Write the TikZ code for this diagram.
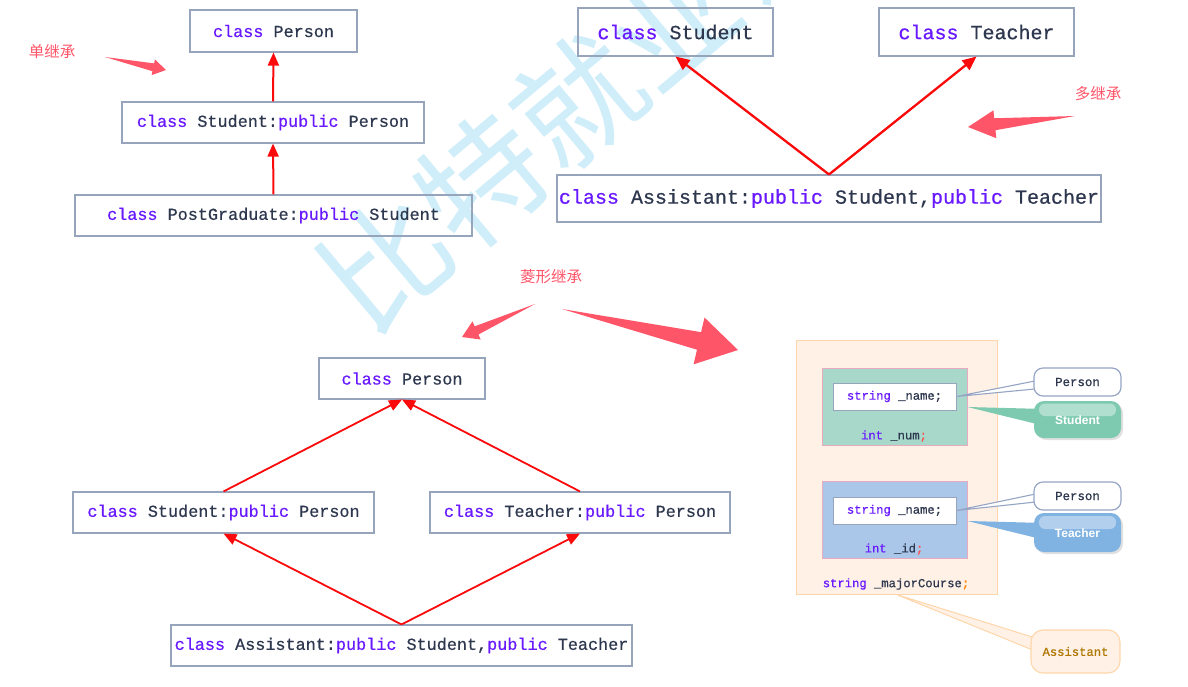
\documentclass[tikz,border=0pt]{standalone}
\usepackage{fontspec}
\setmonofont{Liberation Mono}[FakeBold=0.6]
\newfontfamily\plainmono{Liberation Mono}
\newfontfamily\cjkfont{Noto Sans CJK SC}
\newfontfamily\lsans{Liberation Sans}
\usetikzlibrary{arrows.meta,calc}
\definecolor{boxc}{RGB}{150,165,188}
\definecolor{codec}{RGB}{45,55,78}
\definecolor{kwc}{RGB}{105,25,255}
\definecolor{redc}{RGB}{250,10,10}
\definecolor{annotc}{RGB}{255,85,105}
\definecolor{wmc}{RGB}{208,238,250}
\definecolor{peachfill}{RGB}{255,241,230}
\definecolor{peachdraw}{RGB}{255,214,170}
\definecolor{greenfill}{RGB}{168,216,202}
\definecolor{bluefill}{RGB}{170,199,233}
\definecolor{pinkdraw}{RGB}{232,170,188}
\definecolor{calgreen}{RGB}{126,202,176}
\definecolor{calblue}{RGB}{128,178,226}
\definecolor{persond}{RGB}{150,165,196}
\definecolor{asstc}{RGB}{176,118,0}
\newcommand{\kw}[1]{\textcolor{kwc}{#1}}
\newcommand{\fatarrow}[5]{%
  \fill[annotc] (#1) -- ($(#2)!#3!(#1)!#5!90:(#1)$) -- ($(#2)!#3!(#1)!#4!90:(#1)$) -- (#2)
    -- ($(#2)!#3!(#1)!#4!-90:(#1)$) -- ($(#2)!#3!(#1)!#5!-90:(#1)$) -- cycle;}
\begin{document}
\begin{tikzpicture}[x=1pt,y=-1pt,
  cbox/.style={draw=boxc, line width=1.1pt, inner sep=0pt, text=codec,
    font=\ttfamily\fontsize{16.8}{18}\selectfont},
  bigbox/.style={cbox, font=\ttfamily\fontsize{20}{22}\selectfont},
  inh/.style={draw=redc, line width=2pt, -{Triangle[length=13pt,width=11pt]}},
  annot/.style={text=annotc, font=\cjkfont\fontsize{15.5}{17}\selectfont, inner sep=0pt},
  memtxt/.style={text=codec, inner sep=0pt, font=\ttfamily\fontsize{12.2}{14}\selectfont},
  personcall/.style={draw=persond, line width=1.2pt, fill=white, rounded corners=9pt,
    minimum width=87pt, minimum height=28pt, inner sep=0pt, text=codec,
    font=\ttfamily\fontsize{12.4}{14}\selectfont},
  colcall/.style={rounded corners=10pt, minimum width=87pt, inner sep=0pt, text=white,
    font=\lsans\bfseries\fontsize{12}{14}\selectfont}
]
\useasboundingbox (0,0) rectangle (1188,686);
\fill[white] (0,0) rectangle (1188,686);
% watermark
\begin{scope}
\clip (0,0) rectangle (1188,686);
\node[text=wmc, font=\cjkfont\fontsize{125}{130}\selectfont, rotate=40, anchor=west, inner sep=0pt]
  (wm) at (338,302) {比特就业课};
\end{scope}

% ---------- single inheritance ----------
\node[cbox, minimum width=167pt, minimum height=42pt] (p1) at (273.5,31) {\kw{class} Person};
\node[cbox, minimum width=302pt, minimum height=41pt] (s1) at (273,122.5) {\kw{class} Student:\kw{public} Person};
\node[cbox, minimum width=397pt, minimum height=41pt] (pg) at (273.5,215.5) {\kw{class} PostGraduate:\kw{public} Student};
\draw[inh] (s1.north) -- (p1.south);
\draw[inh] (pg.north) -- (s1.south);
\node[annot] (l1) at (52,52) {单继承};
\fatarrow{105,57}{166,70}{13pt}{8pt}{4pt}

% ---------- multiple inheritance ----------
\node[bigbox, minimum width=195pt, minimum height=48pt] (ts) at (675.5,32) {\kw{class} Student};
\node[bigbox, minimum width=195pt, minimum height=48pt] (tt) at (976.5,32) {\kw{class} Teacher};
\node[bigbox, minimum width=544pt, minimum height=47pt] (ta) at (829,198.5) {\kw{class} Assistant:\kw{public} Student,\kw{public} Teacher};
\draw[inh, line width=2.3pt, -{Triangle[length=14pt,width=12pt]}] (ta.north) -- (ts.south);
\draw[inh, line width=2.3pt, -{Triangle[length=14pt,width=12pt]}] (ta.north) -- (tt.south);
\node[annot] (l2) at (1098,94) {多继承};
\fatarrow{1075,116}{968,127}{27pt}{14pt}{6pt}

% ---------- diamond inheritance ----------
\node[cbox, minimum width=166pt, minimum height=41pt] (bp) at (402,378.5) {\kw{class} Person};
\node[cbox, minimum width=301pt, minimum height=41pt] (bs) at (223.5,512.5) {\kw{class} Student:\kw{public} Person};
\node[cbox, minimum width=300pt, minimum height=41pt] (bt) at (580,512.5) {\kw{class} Teacher:\kw{public} Person};
\node[cbox, minimum width=461pt, minimum height=41pt] (ba) at (401.5,645.5) {\kw{class} Assistant:\kw{public} Student,\kw{public} Teacher};
\draw[inh, line width=1.8pt] (bs.north) -- (bp.south);
\draw[inh, line width=1.8pt] (bt.north) -- (bp.south);
\draw[inh, line width=1.8pt] (ba.north) -- (bs.south);
\draw[inh, line width=1.8pt] (ba.north) -- (bt.south);
\node[annot] (l3) at (551,277) {菱形继承};
\fatarrow{535,304}{462,337}{16pt}{10pt}{4.5pt}
\fatarrow{562,309}{738,350}{40pt}{24pt}{9pt}

% ---------- memory layout ----------
\node[draw=peachdraw, fill=peachfill, line width=1pt, minimum width=201pt, minimum height=254pt, inner sep=0pt] (asst) at (896.5,467) {};
\node[draw=pinkdraw, fill=greenfill, line width=1pt, minimum width=145pt, minimum height=77pt, inner sep=0pt] (gbox) at (894.5,406.5) {};
\node[draw=boxc, fill=white, line width=1pt, minimum width=123pt, minimum height=27pt, memtxt] (in1) at (894.5,396.5) {\kw{string} \_name;};
\node[memtxt] (num) at (894,436) {\kw{int} \_num\textcolor{red!70}{;}};
\node[draw=pinkdraw, fill=bluefill, line width=1pt, minimum width=145pt, minimum height=77pt, inner sep=0pt] (bbox) at (894.5,519.5) {};
\node[draw=boxc, fill=white, line width=1pt, minimum width=123pt, minimum height=27pt, memtxt] (in2) at (894.5,510.5) {\kw{string} \_name;};
\node[memtxt] (id) at (894,549) {\kw{int} \_id\textcolor{red!70}{;}};
\node[memtxt] (major) at (896,584) {\kw{string} \_majorCourse\textcolor{orange}{;}};

% callout wedges
\coordinate (w1a) at (1045,379); \coordinate (w1b) at (1045,388);
\coordinate (w2a) at (1045,409); \coordinate (w2b) at (1045,426);
\coordinate (w3a) at (1045,492); \coordinate (w3b) at (1045,501);
\coordinate (w4a) at (1045,523); \coordinate (w4b) at (1045,540);
\coordinate (w5a) at (1045,641); \coordinate (w5b) at (1045,655);
\filldraw[fill=white, draw=persond, line width=1.1pt] (in1.east) -- (w1a) -- (w1b) -- cycle;
\fill[calgreen] (gbox.east |- 0,407) -- (w2a) -- (w2b) -- cycle;
\filldraw[fill=white, draw=persond, line width=1.1pt] (in2.east) -- (w3a) -- (w3b) -- cycle;
\fill[calblue] (bbox.east |- 0,521) -- (w4a) -- (w4b) -- cycle;
\filldraw[fill=peachfill, draw=peachdraw, line width=1pt] (asst.south) -- (w5a) -- (w5b) -- cycle;

% callouts
\node[personcall] (cp1) at (1077.5,382) {Person};
\fill[black, opacity=0.12, rounded corners=10pt] (1036,403) rectangle (1123,440);
\node[colcall, fill=calgreen, minimum height=37pt] (cst) at (1077.5,419.5) {};
\fill[white, opacity=0.4, rounded corners=6pt] (1039,403.5) rectangle (1116,416);
\node[colcall] (cstt) at (1077.5,420) {Student};
\node[personcall] (cp2) at (1077.5,496) {Person};
\fill[black, opacity=0.12, rounded corners=10pt] (1036,515) rectangle (1123,554);
\node[colcall, fill=calblue, minimum height=39pt] (cte) at (1077.5,532.5) {};
\fill[white, opacity=0.4, rounded corners=6pt] (1039,516) rectangle (1116,529);
\node[colcall] (ctet) at (1077.5,533) {Teacher};
\node[draw=peachdraw, fill=peachfill, line width=1.1pt, rounded corners=12pt, minimum width=89pt, minimum height=43pt, inner sep=0pt, text=asstc, font=\ttfamily\fontsize{12.2}{14}\selectfont] (cas) at (1075.5,651.5) {Assistant};
\end{tikzpicture}
\end{document}
